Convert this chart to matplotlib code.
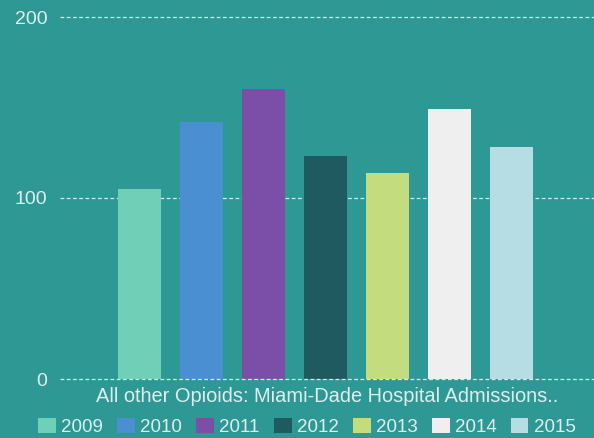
import matplotlib
matplotlib.use('Agg')
from matplotlib import pyplot as plt
from matplotlib.patches import Patch
import numpy as np

matplotlib.rcParams['font.family'] = ['Liberation Sans', 'DejaVu Sans']

years = ['2009', '2010', '2011', '2012', '2013', '2014', '2015']
admissions = [105, 142, 160, 123, 114, 149, 128]
colors = ['#6fcfb7', '#4a8fd2', '#7b4fa8', '#1e5a5f', '#c3dc7d', '#efefef', '#b7dde4']

bg = '#2e9895'
txt = '#dcefee'

fig = plt.figure(figsize=(5.94, 4.38), dpi=100, facecolor=bg)
ax = fig.add_axes([60 / 594, 59 / 438, 534 / 594, 362 / 438])
ax.set_facecolor(bg)

x = np.arange(len(years))
ax.bar(x, admissions, width=0.69, color=colors, zorder=2)

ax.set_xlim(-1.28, 7.33)
ax.set_ylim(0, 200)
ax.set_yticks([0, 100, 200])
ax.set_xticks([])
for yv in [0, 100, 200]:
    ax.axhline(yv, linestyle=(0, (3, 2)), color='#d5ecea', linewidth=0.9,
               zorder=3 if yv == 0 else 1, clip_on=False)
for s in ax.spines.values():
    s.set_visible(False)
ax.tick_params(axis='y', length=0, pad=9, labelsize=14, labelcolor=txt)

fig.text(327 / 594, 1 - 396 / 438, 'All other Opioids: Miami-Dade Hospital Admissions..',
         ha='center', va='center', color=txt, fontsize=14.4)

handles = [Patch(facecolor=c, edgecolor='none') for c in colors]
fig.legend(handles, years, loc='center', bbox_to_anchor=(307 / 594, 1 - 427 / 438),
           ncol=7, frameon=False, fontsize=13.5, labelcolor=txt,
           handlelength=0.95, handleheight=0.9, handletextpad=0.28, columnspacing=0.75,
           borderpad=0, borderaxespad=0)

fig.savefig('out.png', dpi=100, facecolor=bg)
